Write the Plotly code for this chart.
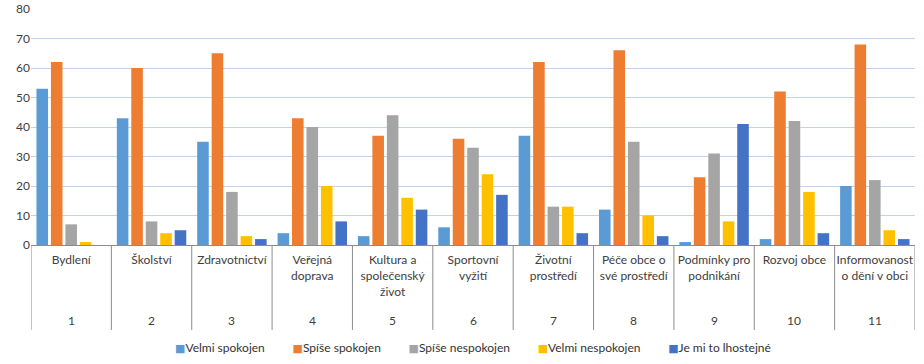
import plotly.graph_objects as go

categories = ["Bydlení", "Školství", "Zdravotnictví", "Veřejná<br>doprava",
              "Kultura a<br>společenský<br>život", "Sportovní<br>vyžití",
              "Životní<br>prostředí", "Péče obce o<br>své prostředí",
              "Podmínky pro<br>podnikání", "Rozvoj obce",
              "Informovanost<br>o dění v obci"]
numbers = ["1", "2", "3", "4", "5", "6", "7", "8", "9", "10", "11"]

series_names = ["Velmi spokojen", "Spíše spokojen", "Spíše nespokojen",
                "Velmi nespokojen", "Je mi to lhostejné"]
velmi_spokojen = [53, 43, 35, 4, 3, 6, 37, 12, 1, 2, 20]
spise_spokojen = [62, 60, 65, 43, 37, 36, 62, 66, 23, 52, 68]
spise_nespokojen = [7, 8, 18, 40, 44, 33, 13, 35, 31, 42, 22]
velmi_nespokojen = [1, 4, 3, 20, 16, 24, 13, 10, 8, 18, 5]
lhostejne = [0, 5, 2, 8, 12, 17, 4, 3, 41, 4, 2]
colors = ["#5B9BD5", "#ED7D31", "#A5A5A5", "#FFC000", "#4472C4"]

all_values = [velmi_spokojen, spise_spokojen, spise_nespokojen, velmi_nespokojen, lhostejne]

FONT = "Lato, 'Open Sans', sans-serif"
TXT = "#404040"
fig = go.Figure()
xs = list(range(len(categories)))
for name, vals, col in zip(series_names, all_values, colors):
    fig.add_trace(go.Bar(x=xs, y=vals, name=name, marker_color=col,
                         marker_line_width=0, showlegend=False))

shapes = []
for i in range(len(categories) + 1):
    shapes.append(dict(type="line", xref="x", yref="paper",
                       x0=i - 0.5, x1=i - 0.5, y0=0, y1=-0.36,
                       line=dict(color="#8c8c8c", width=1)))
annotations = []
for i, n in enumerate(numbers):
    annotations.append(dict(x=i, y=-0.32, xref="x", yref="paper", text=n,
                            showarrow=False, yanchor="middle",
                            font=dict(family=FONT, size=12, color=TXT)))

# legend built as a single text line with coloured squares
legend_parts = []
for name, col in zip(series_names, colors):
    legend_parts.append(
        "<span style='color:%s;font-family:DejaVu Sans;font-size:11px'>■</span>%s" % (col, name))
legend_text = ("&nbsp;" * 9).join(legend_parts)
annotations.append(dict(x=0.5, y=-0.436, xref="paper", yref="paper",
                        text=legend_text, showarrow=False, xanchor="center",
                        yanchor="middle",
                        font=dict(family=FONT, size=12, color="#333333")))

fig.update_layout(
    width=924, height=364,
    margin=dict(l=31, r=9, t=9, b=119, autoexpand=False),
    paper_bgcolor="white", plot_bgcolor="white",
    barmode="group", bargap=0.1, bargroupgap=0.2,
    font=dict(family=FONT, size=12, color=TXT),
    showlegend=False,
    xaxis=dict(tickmode="array", tickvals=xs, ticktext=categories,
               range=[-0.5, len(categories) - 0.5], automargin=False,
               showgrid=False, ticks="", showline=True,
               linecolor="#8c8c8c", linewidth=1, tickangle=0,
               ticklabelstandoff=4),
    yaxis=dict(range=[0, 80], dtick=10, showgrid=True, gridcolor="#BFD4EA",
               gridwidth=1, zeroline=False, showline=False, ticks="",
               automargin=False, tickfont=dict(size=12)),
    shapes=shapes, annotations=annotations,
)
fig.write_html("out.html", config={"displayModeBar": False},
               post_script="document.body.style.margin='0';")
